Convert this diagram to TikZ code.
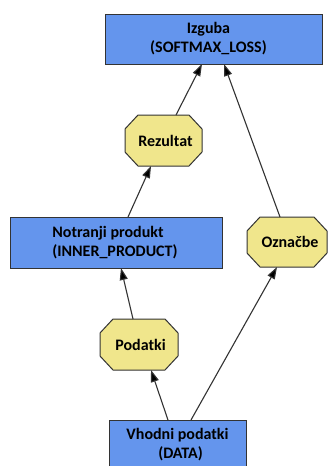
\documentclass[tikz,border=0pt]{standalone}
\usepackage{fontspec}
\setmainfont{Carlito}
\usetikzlibrary{arrows.meta,backgrounds}

\definecolor{layerblue}{RGB}{100,149,237}
\definecolor{blobyellow}{RGB}{240,230,140}
\definecolor{edgegray}{RGB}{51,51,51}

\tikzset{
  x=1pt, y=1pt,
  labelfont/.style={font=\fontsize{16}{19}\selectfont\bfseries},
  layer/.style={rectangle, draw=edgegray, line width=1pt, fill=layerblue,
    inner sep=0pt, outer sep=0pt, align=center, labelfont},
  blob/.style={rectangle, draw=none, inner sep=0pt, outer sep=0pt,
    minimum width=78pt, minimum height=51pt, labelfont},
  octline/.style={draw=edgegray, line width=1pt, fill=blobyellow},
  flow/.style={draw=edgegray, line width=1.1pt,
    -{Triangle[length=12pt,width=8pt,fill=black]}},
}

% octagon drawn around a named node, chamfer #2 horizontally and #3 vertically
\newcommand{\octaround}[3]{%
  \path[octline]
    ([xshift=#2]#1.north west) -- ([xshift=-#2]#1.north east) --
    ([yshift=-#3]#1.north east) -- ([yshift=#3]#1.south east) --
    ([xshift=-#2]#1.south east) -- ([xshift=#2]#1.south west) --
    ([yshift=#3]#1.south west) -- ([yshift=-#3]#1.north west) -- cycle;}

\begin{document}
\begin{tikzpicture}
\useasboundingbox (0,0) rectangle (327,-466);

% layers
\node[layer, minimum width=217pt, minimum height=50pt] (loss) at (213.5,-39)
  {\hspace*{-10pt}Izguba\\\hspace*{-10pt}(SOFTMAX\_LOSS)};
\node[layer, minimum width=212pt, minimum height=51pt, align=left] (ip) at (116,-242.5)
  {\hspace*{-2pt}Notranji produkt\\\hspace*{-2pt}(INNER\_PRODUCT)};
\node[layer, minimum width=137pt, minimum height=50pt] (data) at (177.5,-445)
  {Vhodni podatki\\\hspace*{6pt}(DATA)};

% blobs
\node[blob, minimum width=77pt] (res) at (163.5,-140.5) {\hspace*{4pt}Rezultat};
\node[blob, minimum width=80pt, minimum height=50pt] (lab) at (287,-242) {\hspace*{6pt}Označbe};
\node[blob] (dat) at (139,-344.5) {\hspace*{3pt}Podatki};

\begin{scope}[on background layer]
  \fill[white] (0,0) rectangle (327,-466);
  \octaround{res}{13pt}{14pt}
  \octaround{lab}{13pt}{14pt}
  \octaround{dat}{13pt}{14pt}
\end{scope}

% connectors
\draw[flow] ([xshift=12.5pt]res.north) -- ([xshift=-11.5pt]loss.south);
\draw[flow] ([xshift=-7pt]lab.north) -- ([xshift=10.5pt]loss.south);
\draw[flow] ([xshift=12pt]ip.north) -- ([xshift=-12.5pt]res.south);
\draw[flow] ([xshift=-6pt]dat.north) -- ([xshift=5pt]ip.south);
\draw[flow] ([xshift=-9.5pt]data.north) -- ([xshift=12pt]dat.south);
\draw[flow] ([xshift=13.5pt]data.north) -- ([xshift=-10pt]lab.south);
\end{tikzpicture}
\end{document}
